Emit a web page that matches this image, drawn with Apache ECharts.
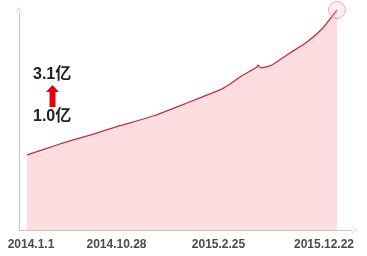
<!DOCTYPE html>
<html><head><meta charset="utf-8">
<script src="https://cdn.jsdelivr.net/npm/echarts@6/dist/echarts.min.js"></script>
<style>html,body{margin:0;padding:0;background:#fff}#c{width:367px;height:256px}</style>
</head><body><div id="c"></div>
<script>
// x positions (relative progress units) and user counts (亿)
const xPos   = [8, 41, 71, 101, 134, 168, 201, 211, 221, 238, 239, 242, 247, 253, 271, 288, 304, 314, 318];
const users  = [1.037, 1.189, 1.313, 1.442, 1.576, 1.756, 1.936, 2.018, 2.115, 2.254, 2.281, 2.240, 2.254, 2.281, 2.447, 2.599, 2.793, 2.972, 3.042];
const tickPos    = [12, 97.5, 199.5, 305];
const tickLabels = ['2014.1.1', '2014.10.28', '2015.2.25', '2015.12.22'];
const startLabel = '1.0亿';
const endLabel   = '3.1亿';

const chart = echarts.init(document.getElementById('c'), null, {renderer: 'canvas'});
const arrowPath = 'path://M0,10 L5,0 L10,10 L9,10 L5,2 L1,10 Z';
const last = xPos.length - 1;
chart.setOption({
  animation: false,
  grid: {left: 19, right: 15, top: 13, bottom: 26},
  xAxis: {
    type: 'value', min: 0, max: 333,
    splitLine: {show: false},
    axisLine: {show: true, lineStyle: {color: '#c4c4c4', width: 1}, symbol: ['none', arrowPath], symbolSize: [7, 6], symbolOffset: [0, 3]},
    axisTick: {show: false},
    axisLabel: {
      customValues: tickPos,
      formatter: function (v) { const i = tickPos.indexOf(v); return i >= 0 ? tickLabels[i] : ''; },
      color: '#4a4a4a', fontSize: 12, fontWeight: 'bold', fontFamily: 'Liberation Sans', margin: 9
    }
  },
  yAxis: {
    type: 'value', min: 0, max: 3,
    splitLine: {show: false},
    axisLine: {show: true, lineStyle: {color: '#c4c4c4', width: 1}, symbol: ['none', arrowPath], symbolSize: [7, 6], symbolOffset: [0, 3]},
    axisTick: {show: false},
    axisLabel: {show: false}
  },
  series: [{
    type: 'line',
    data: xPos.map((x, i) => [x, users[i]]),
    clip: false,
    symbol: 'none',
    smooth: 0.15,
    lineStyle: {color: '#bf3046', width: 1.3},
    areaStyle: {color: '#fddde0', opacity: 1}
  }, {
    type: 'scatter',
    clip: false,
    symbol: 'circle', symbolSize: 17,
    itemStyle: {color: 'rgba(250,190,195,0.35)', borderColor: '#eb9aa3', borderWidth: 1},
    data: [[xPos[last], users[last]]],
    z: 3
  }],
  graphic: [
    {type: 'text', left: 33, top: 67, style: {text: endLabel, font: 'bold 16px "Liberation Sans", "Noto Sans CJK SC"', fill: '#222'}},
    {type: 'text', left: 33, top: 109, style: {text: startLabel, font: 'bold 16px "Liberation Sans", "Noto Sans CJK SC"', fill: '#222'}},
    {type: 'polygon', shape: {points: [[52.5, 85], [59, 92], [55.5, 92], [55.5, 107], [49.5, 107], [49.5, 92], [46, 92]]}, style: {fill: '#e8000b'}}
  ]
});
</script></body></html>
